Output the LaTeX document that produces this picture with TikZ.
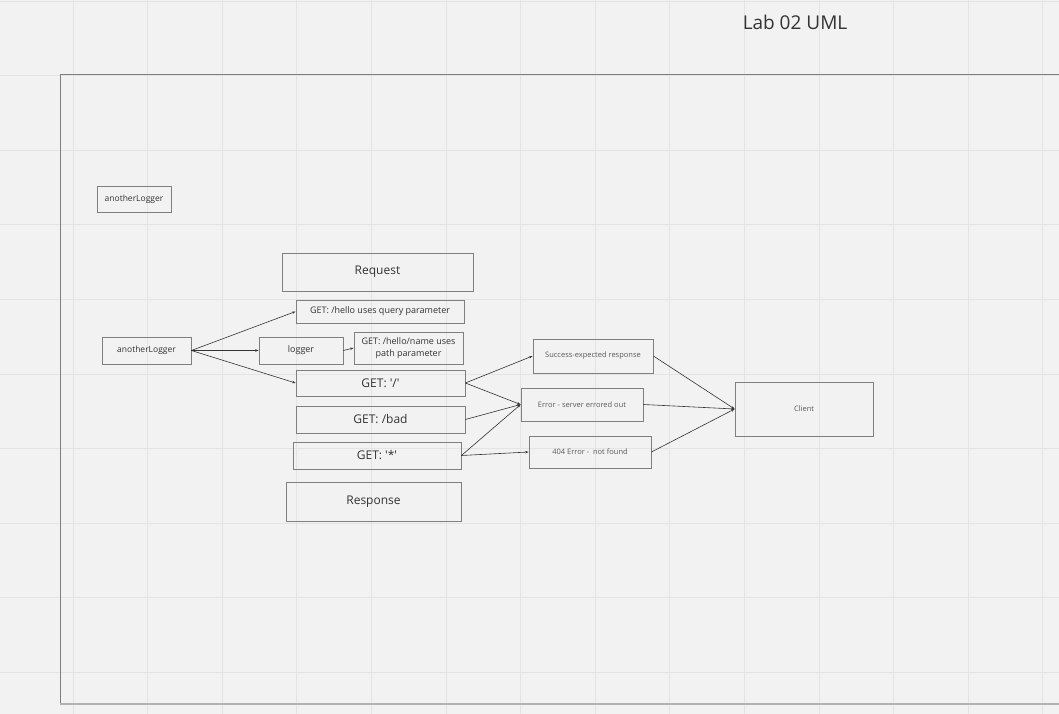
\documentclass[tikz,border=0pt]{standalone}
\usepackage{fontspec}
\setmainfont{Open Sans}
\usetikzlibrary{arrows.meta}
\definecolor{bgcol}{HTML}{F2F2F2}
\definecolor{gridcol}{HTML}{E4E4E4}
\definecolor{boxcol}{HTML}{7F7F7F}
\definecolor{linecol}{HTML}{333333}
\definecolor{textcol}{HTML}{333333}
\definecolor{softtext}{HTML}{5A5A5A}
\newcommand{\fs}[1]{\fontsize{#1}{1.35\dimexpr#1pt\relax}\selectfont}
\newcommand{\sq}{\textquotesingle}
\begin{document}
\begin{tikzpicture}[x=1pt,y=-1pt]
        \tikzstyle{box}=[rectangle,draw=boxcol,line width=0.8pt,inner sep=1pt,align=center,text=textcol]
        \tikzstyle{edge}=[draw=linecol,line width=0.6pt,-{Stealth[length=3.5pt,width=2.5pt]}]
        \useasboundingbox (0,0) rectangle (1059,714);
        \fill[bgcol] (0,0) rectangle (1059,714);
        % grid
        \foreach \gx in {0,...,14} \draw[gridcol,line width=0.8pt] ({-1.6+74.6*\gx},0) -- ({-1.6+74.6*\gx},714);
        \foreach \gy in {0,...,9} \draw[gridcol,line width=0.8pt] (0,{1+74.6*\gy}) -- (1059,{1+74.6*\gy});
        % frame
        \draw[boxcol,line width=0.8pt] (1062,74) -- (60,74) -- (60,704);
        \draw[black!30,line width=1.5pt] (60,704) -- (1062,704);
        \node[text=textcol,font=\fs{19}] (title) at (795,22) {Lab 02 UML};
       \begin{scope}
         \node [box,minimum width=74pt,minimum height=26pt,font=\fs{8.5}] (log0) at (134,199.5) {anotherLogger};
         \node [box,minimum width=191pt,minimum height=38pt,font=\fs{12}] (req) at (377.5,272) {Request};
         \node [box,minimum width=168pt,minimum height=23pt,font=\fs{9}] (hello) at (380,311.5) {GET: /hello uses query parameter};
         \node [box,minimum width=89pt,minimum height=27pt,font=\fs{8.5}] (alog) at (146.5,350.5) {anotherLogger};
         \node [box,minimum width=84pt,minimum height=27pt,font=\fs{9}] (logger) at (301,350.5) {logger};
         \node [box,minimum width=109pt,minimum height=32pt,font=\fs{9}] (name) at (408.5,348) {GET: /hello/name uses\\path parameter};
         \node [box,minimum width=169pt,minimum height=26pt,font=\fs{12}] (root) at (380.5,383) {GET: \sq/\sq};
         \node [box,minimum width=169pt,minimum height=27pt,font=\fs{12}] (bad) at (380.5,419.5) {GET: /bad};
         \node [box,minimum width=168pt,minimum height=27pt,font=\fs{12}] (star) at (377,455.5) {GET: \sq*\sq};
         \node [box,minimum width=175pt,minimum height=39pt,font=\fs{12}] (resp) at (373.5,501.5) {Response};
         \node [box,minimum width=120pt,minimum height=34pt,font=\fs{7.5},text=softtext] (ok) at (593,356) {Success-expected response};
         \node [box,minimum width=122pt,minimum height=33pt,font=\fs{7.5},text=softtext] (err) at (582,404.5) {Error - server errored out};
         \node [box,minimum width=122pt,minimum height=32pt,font=\fs{7.5},text=softtext] (nf) at (590,452) {404 Error -\ \ not found};
         \node [box,minimum width=138pt,minimum height=54pt,font=\fs{7.5},text=softtext] (client) at (804,409) {Client};
         \path[edge] (alog.east) -- (hello.west);
         \path[edge] (alog.east) -- (logger.west);
         \path[edge] (alog.east) -- (root.west);
         \path[edge] (logger.east) -- (name.west);
         \path[edge] (root.east) -- (ok.west);
         \path[edge] (root.east) -- (err.west);
         \path[edge] (bad.east) -- (err.west);
         \path[edge] (star.east) -- (err.west);
         \path[edge] (star.east) -- (nf.west);
         \path[edge] (ok.east) -- (client.west);
         \path[edge] (err.east) -- (client.west);
         \path[edge] (nf.east) -- (client.west);
        \end{scope}
      \end{tikzpicture}
\end{document}
